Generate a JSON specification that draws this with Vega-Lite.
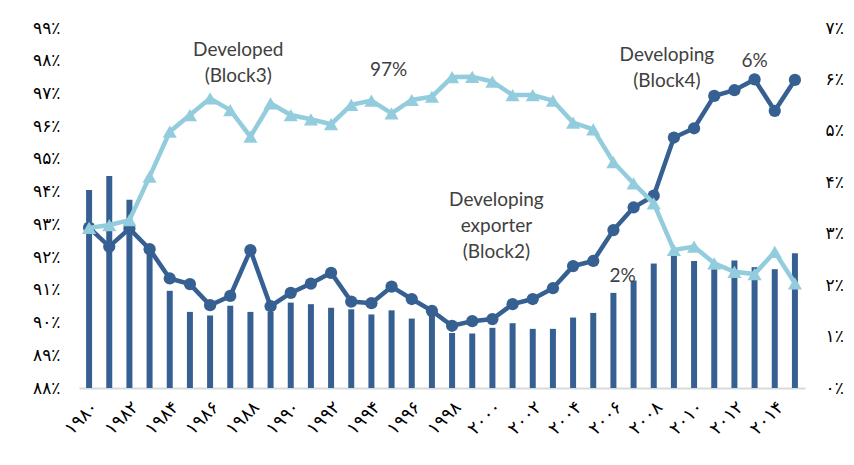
{
  "$schema": "https://vega.github.io/schema/vega-lite/v6.json",
  "width": 726,
  "height": 360,
  "autosize": "none",
  "padding": {"left": 79, "top": 28, "right": 49, "bottom": 77},
  "background": "white",
  "config": {"view": {"stroke": null}, "text": {"font": "Lato", "fontSize": 19, "color": "#404040", "lineBreak": "\n", "lineHeight": 26, "align": "center", "baseline": "middle"}},
  "data": {
    "values": [
      {"year": 1980, "developed": 92.89, "developing": 3.12, "exporter": 3.85},
      {"year": 1981, "developed": 92.98, "developing": 2.75, "exporter": 4.12},
      {"year": 1982, "developed": 93.13, "developing": 3.10, "exporter": 3.66},
      {"year": 1983, "developed": 94.46, "developing": 2.70, "exporter": 2.64},
      {"year": 1984, "developed": 95.83, "developing": 2.13, "exporter": 1.89},
      {"year": 1985, "developed": 96.34, "developing": 2.02, "exporter": 1.48},
      {"year": 1986, "developed": 96.85, "developing": 1.61, "exporter": 1.41},
      {"year": 1987, "developed": 96.49, "developing": 1.79, "exporter": 1.60},
      {"year": 1988, "developed": 95.68, "developing": 2.68, "exporter": 1.48},
      {"year": 1989, "developed": 96.70, "developing": 1.59, "exporter": 1.48},
      {"year": 1990, "developed": 96.34, "developing": 1.85, "exporter": 1.66},
      {"year": 1991, "developed": 96.21, "developing": 2.03, "exporter": 1.63},
      {"year": 1992, "developed": 96.06, "developing": 2.24, "exporter": 1.56},
      {"year": 1993, "developed": 96.65, "developing": 1.68, "exporter": 1.53},
      {"year": 1994, "developed": 96.78, "developing": 1.65, "exporter": 1.43},
      {"year": 1995, "developed": 96.39, "developing": 1.97, "exporter": 1.51},
      {"year": 1996, "developed": 96.80, "developing": 1.73, "exporter": 1.35},
      {"year": 1997, "developed": 96.90, "developing": 1.50, "exporter": 1.48},
      {"year": 1998, "developed": 97.50, "developing": 1.21, "exporter": 1.07},
      {"year": 1999, "developed": 97.51, "developing": 1.30, "exporter": 1.06},
      {"year": 2000, "developed": 97.36, "developing": 1.34, "exporter": 1.17},
      {"year": 2001, "developed": 96.95, "developing": 1.63, "exporter": 1.26},
      {"year": 2002, "developed": 96.95, "developing": 1.73, "exporter": 1.15},
      {"year": 2003, "developed": 96.78, "developing": 1.94, "exporter": 1.15},
      {"year": 2004, "developed": 96.11, "developing": 2.37, "exporter": 1.37},
      {"year": 2005, "developed": 95.90, "developing": 2.47, "exporter": 1.46},
      {"year": 2006, "developed": 94.90, "developing": 3.07, "exporter": 1.85},
      {"year": 2007, "developed": 94.25, "developing": 3.51, "exporter": 2.09},
      {"year": 2008, "developed": 93.64, "developing": 3.74, "exporter": 2.42},
      {"year": 2009, "developed": 92.22, "developing": 4.87, "exporter": 2.59},
      {"year": 2010, "developed": 92.32, "developing": 5.05, "exporter": 2.47},
      {"year": 2011, "developed": 91.81, "developing": 5.68, "exporter": 2.31},
      {"year": 2012, "developed": 91.55, "developing": 5.79, "exporter": 2.48},
      {"year": 2013, "developed": 91.48, "developing": 6.00, "exporter": 2.35},
      {"year": 2014, "developed": 92.16, "developing": 5.39, "exporter": 2.31},
      {"year": 2015, "developed": 91.20, "developing": 5.99, "exporter": 2.62}
    ]
  },
  "encoding": {
    "x": {
      "field": "year",
      "type": "ordinal",
      "scale": {"paddingInner": 0, "paddingOuter": 0},
      "axis": {
        "title": null,
        "values": [1980, 1982, 1984, 1986, 1988, 1990, 1992, 1994, 1996, 1998, 2000, 2002, 2004, 2006, 2008, 2010, 2012, 2014],
        "labelExpr": "replace(replace(replace(replace(replace(replace(replace(replace(replace(replace(toString(datum.value),regexp('0','g'),'۰'),regexp('1','g'),'۱'),regexp('2','g'),'۲'),regexp('3','g'),'۳'),regexp('4','g'),'۴'),regexp('5','g'),'۵'),regexp('6','g'),'۶'),regexp('7','g'),'۷'),regexp('8','g'),'۸'),regexp('9','g'),'۹')",
        "labelAngle": -45,
        "labelFont": "DejaVu Sans",
        "labelFontSize": 18,
        "labelFontWeight": "normal",
        "labelColor": "black",
        "labelPadding": 10,
        "ticks": false,
        "domainColor": "#d9d9d9",
        "domainWidth": 2,
        "grid": false
      }
    }
  },
  "layer": [
    {
      "encoding": {
        "y": {
          "type": "quantitative",
          "scale": {"domain": [0, 7], "nice": false},
          "axis": {
            "orient": "right",
            "title": null,
            "values": [0, 1, 2, 3, 4, 5, 6, 7],
            "labelExpr": "replace(replace(replace(replace(replace(replace(replace(replace(replace(replace(toString(datum.value),regexp('0','g'),'۰'),regexp('1','g'),'۱'),regexp('2','g'),'۲'),regexp('3','g'),'۳'),regexp('4','g'),'۴'),regexp('5','g'),'۵'),regexp('6','g'),'۶'),regexp('7','g'),'۷'),regexp('8','g'),'۸'),regexp('9','g'),'۹') + '٪'",
            "labelFont": "DejaVu Sans",
            "labelFontSize": 17,
            "labelColor": "black",
            "labelPadding": 20,
            "ticks": false,
            "domain": false,
            "grid": false
          }
        }
      },
      "layer": [
        {
          "mark": {"type": "bar", "width": 6, "color": "#376092"},
          "encoding": {"y": {"field": "exporter", "type": "quantitative"}}
        },
        {
          "mark": {
            "type": "line",
            "color": "#376092",
            "strokeWidth": 4.5,
            "point": {"filled": true, "size": 150, "color": "#376092", "shape": "circle"}
          },
          "encoding": {"y": {"field": "developing", "type": "quantitative"}}
        },
        {
          "data": {"values": [{"year": 2009, "v": 6.47, "t": "Developing\n(Block4)"}]},
          "mark": {"type": "text", "dx": -7},
          "encoding": {"y": {"field": "v", "type": "quantitative"}, "text": {"field": "t"}}
        },
        {
          "data": {"values": [{"year": 2013, "v": 6.36, "t": "6%"}]},
          "mark": {"type": "text"},
          "encoding": {"y": {"field": "v", "type": "quantitative"}, "text": {"field": "t"}}
        },
        {
          "data": {"values": [{"year": 2000, "v": 3.66, "t": "Developing\nexporter\n(Block2)"}]},
          "mark": {"type": "text", "dx": 4},
          "encoding": {"y": {"field": "v", "type": "quantitative"}, "text": {"field": "t"}}
        },
        {
          "data": {"values": [{"year": 2007, "v": 2.18, "t": "2%"}]},
          "mark": {"type": "text", "dx": -11},
          "encoding": {"y": {"field": "v", "type": "quantitative"}, "text": {"field": "t"}}
        }
      ]
    },
    {
      "encoding": {
        "y": {
          "type": "quantitative",
          "scale": {"domain": [88, 99], "nice": false, "zero": false},
          "axis": {
            "orient": "left",
            "title": null,
            "values": [88, 89, 90, 91, 92, 93, 94, 95, 96, 97, 98, 99],
            "labelExpr": "replace(replace(replace(replace(replace(replace(replace(replace(replace(replace(toString(datum.value),regexp('0','g'),'۰'),regexp('1','g'),'۱'),regexp('2','g'),'۲'),regexp('3','g'),'۳'),regexp('4','g'),'۴'),regexp('5','g'),'۵'),regexp('6','g'),'۶'),regexp('7','g'),'۷'),regexp('8','g'),'۸'),regexp('9','g'),'۹') + '٪'",
            "labelFont": "DejaVu Sans",
            "labelFontSize": 17,
            "labelColor": "black",
            "labelPadding": 19,
            "ticks": false,
            "domain": false,
            "grid": false
          }
        }
      },
      "layer": [
        {
          "mark": {
            "type": "line",
            "color": "#93cddd",
            "strokeWidth": 4.5,
            "point": {"filled": true, "size": 200, "color": "#93cddd", "shape": "triangle-up"}
          },
          "encoding": {"y": {"field": "developed", "type": "quantitative"}}
        },
        {
          "data": {"values": [{"year": 1987, "v": 98.33, "t": "Developed\n(Block3)"}]},
          "mark": {"type": "text", "dx": 8},
          "encoding": {"y": {"field": "v", "type": "quantitative"}, "text": {"field": "t"}}
        },
        {
          "data": {"values": [{"year": 1995, "v": 97.72, "t": "97%"}]},
          "mark": {"type": "text", "dx": -3},
          "encoding": {"y": {"field": "v", "type": "quantitative"}, "text": {"field": "t"}}
        }
      ]
    }
  ],
  "resolve": {"scale": {"y": "independent"}}
}
